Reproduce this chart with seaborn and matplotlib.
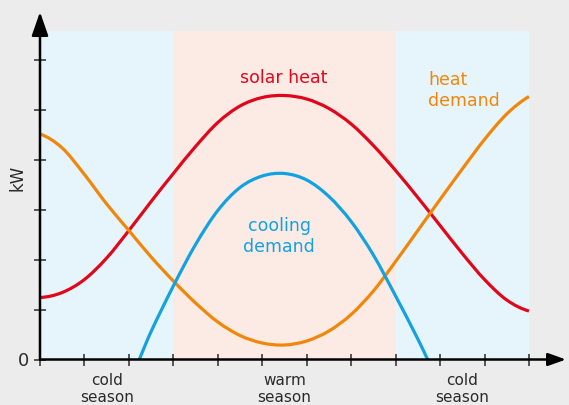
import matplotlib
matplotlib.use("Agg")
import matplotlib.pyplot as plt
from matplotlib.path import Path
from matplotlib.patches import PathPatch
import pandas as pd
import seaborn as sns

# Positions along the year (one unit per tick)
x = [0, 0.5, 1, 1.5, 2, 2.5, 3, 3.5, 4, 4.5, 5, 5.5, 6, 6.5, 7, 7.5, 8, 8.5, 9, 9.5, 10, 10.5, 11]

solar_heat = [1.24, 1.34, 1.60, 2.03, 2.58, 3.16, 3.72, 4.26, 4.74, 5.07, 5.24, 5.28,
              5.21, 5.02, 4.71, 4.28, 3.78, 3.24, 2.68, 2.12, 1.60, 1.19, 0.97]
heat_demand = [4.51, 4.23, 3.70, 3.11, 2.58, 2.05, 1.57, 1.13, 0.75, 0.48, 0.33, 0.29,
               0.37, 0.57, 0.90, 1.37, 1.96, 2.58, 3.20, 3.81, 4.40, 4.91, 5.26]

x_cool = [2.235, 2.5, 3, 3.5, 4, 4.5, 5, 5.5, 6, 6.5, 7, 7.5, 8, 8.5, 8.72]
cooling_demand = [0.0, 0.56, 1.47, 2.30, 2.98, 3.44, 3.67, 3.72, 3.59, 3.26, 2.76, 2.09, 1.27, 0.41, 0.0]

# Seasons: (start, end, label)
season_bounds = [(0, 3), (3, 8), (8, 11)]
season_labels = ["cold\nseason", "warm\nseason", "cold\nseason"]

RED = "#e2061a"
ORANGE = "#f0870a"
BLUE = "#12a2e0"
BG = "#ececec"
COLD_BG = "#e6f4fc"
WARM_BG = "#fcebe5"
INK = "#2b2b2b"


def _extend(a, b, c):
    """Phantom point beyond a, continuing the parabola through a, b, c."""
    xn = 2 * a[0] - b[0]
    (x0, y0), (x1, y1), (x2, y2) = a, b, c
    l0 = (xn - x1) * (xn - x2) / ((x0 - x1) * (x0 - x2))
    l1 = (xn - x0) * (xn - x2) / ((x1 - x0) * (x1 - x2))
    l2 = (xn - x0) * (xn - x1) / ((x2 - x0) * (x2 - x1))
    return (xn, y0 * l0 + y1 * l1 + y2 * l2)


def smooth_path(pts):
    """Catmull-Rom curve through the given points, as cubic Bezier segments."""
    ext = [_extend(pts[0], pts[1], pts[2])] + list(pts) + [_extend(pts[-1], pts[-2], pts[-3])]
    verts = [pts[0]]
    codes = [Path.MOVETO]
    for i in range(1, len(ext) - 2):
        p0, p1, p2, p3 = ext[i - 1], ext[i], ext[i + 1], ext[i + 2]
        h = p2[0] - p1[0]
        s1 = h / (p2[0] - p0[0]) / 3
        s2 = h / (p3[0] - p1[0]) / 3
        c1 = (p1[0] + (p2[0] - p0[0]) * s1, p1[1] + (p2[1] - p0[1]) * s1)
        c2 = (p2[0] - (p3[0] - p1[0]) * s2, p2[1] - (p3[1] - p1[1]) * s2)
        verts += [c1, c2, tuple(p2)]
        codes += [Path.CURVE4] * 3
    return Path(verts, codes)


sns.set_theme(style="white")
plt.rcParams["font.family"] = ["DejaVu Sans"]

W, H = 569, 405
fig = plt.figure(figsize=(W / 100, H / 100), dpi=100, facecolor=BG)

x0, y0 = 40, 359.5       # origin in pixels
x_end, y_end = 566, 12   # arrow tips in pixels
px_per_x, px_per_y = 44.45, 50.0
ax = fig.add_axes([x0 / W, (H - y0) / H, (x_end - x0) / W, (y0 - y_end) / H])
ax.set_facecolor(BG)
xmax = (x_end - x0) / px_per_x
ymax = (y0 - y_end) / px_per_y
band_top = (y0 - 31) / px_per_y

# Season bands
for (a, b), c in zip(season_bounds, [COLD_BG, WARM_BG, COLD_BG]):
    ax.fill_between([a, b], 0, band_top, color=c, lw=0, zorder=0)

df = pd.concat([
    pd.DataFrame({"x": x, "kW": solar_heat, "series": "solar heat"}),
    pd.DataFrame({"x": x, "kW": heat_demand, "series": "heat demand"}),
    pd.DataFrame({"x": x_cool, "kW": cooling_demand, "series": "cooling demand"}),
])
sns.lineplot(data=df, x="x", y="kW", hue="series",
             palette={"solar heat": RED, "heat demand": ORANGE, "cooling demand": BLUE},
             linewidth=2.3, legend=False, ax=ax, zorder=3, sort=False)

# Render each series as a smooth curve through its points
for line in list(ax.lines):
    pts = [tuple(p) for p in line.get_xydata()]
    ax.add_patch(PathPatch(smooth_path(pts), fill=False, edgecolor=line.get_color(),
                           lw=2.3, capstyle="butt", joinstyle="round", zorder=3))
    line.set_visible(False)

ax.set_xlim(0, xmax)
ax.set_ylim(0, ymax)

# Axes with arrowheads
for s in ax.spines.values():
    s.set_visible(False)
ax.annotate("", xy=(1, 0), xytext=(0, 0), xycoords="axes fraction",
            arrowprops=dict(arrowstyle="-|>,head_length=0.9,head_width=0.32",
                            color="black", lw=1.8, shrinkA=0, shrinkB=0), zorder=5)
ax.annotate("", xy=(0, 1), xytext=(0, 0), xycoords="axes fraction",
            arrowprops=dict(arrowstyle="-|>,head_length=1.2,head_width=0.42",
                            color="black", lw=1.8, shrinkA=0, shrinkB=0), zorder=5)

ax.set_xticks(range(0, 12))
ax.set_yticks(range(0, 7))
ax.set_xticklabels([])
ax.set_yticklabels(["0"] + [""] * 6)
ax.tick_params(axis="both", direction="inout", length=8, width=1.1, color=INK,
               bottom=True, left=True, labelsize=13, labelcolor=INK, pad=0)
ax.tick_params(axis="y", pad=4)
ax.set_xlabel("")
ax.set_ylabel("kW", fontsize=12, color=INK)
ax.yaxis.set_label_coords(-0.025, 0.522)

for (a, b), lab in zip(season_bounds, season_labels):
    ax.text((a + b) / 2, -0.038, lab, ha="center", va="top", fontsize=11,
            color=INK, linespacing=1.15, transform=ax.get_xaxis_transform())

ax.text(5.49, 5.63, "solar heat", color=RED, fontsize=12.5, ha="center", va="center")
ax.text(8.73, 5.38, "heat\ndemand", color=ORANGE, fontsize=12.5, ha="left",
        va="center", linespacing=1.15)
ax.text(5.38, 2.46, "cooling\ndemand", color=BLUE, fontsize=12.5, ha="center",
        va="center", linespacing=1.15)

fig.savefig("out.png", dpi=100, facecolor=BG)
